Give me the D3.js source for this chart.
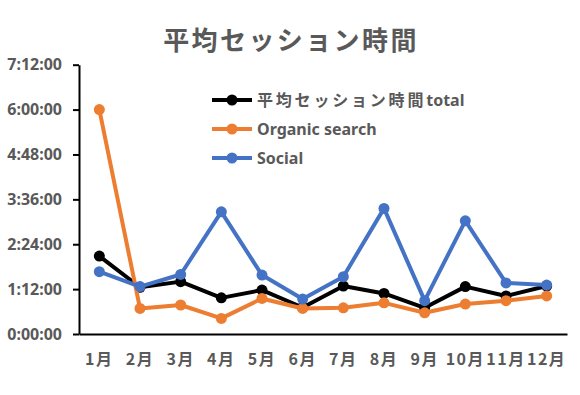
<!DOCTYPE html>
<html>
<head>
<meta charset="utf-8">
<script src="https://cdn.jsdelivr.net/npm/d3@7"></script>
<style>
body { margin: 0; background: #fff; }
</style>
</head>
<body>
<div></div>
<script>
const width = 580, height = 395
const svg = d3.select("div")
    .append("svg")
    .attr("xmlns", "http://www.w3.org/2000/svg")
    .attr("width", width)
    .attr("height", height)

// data
const months = ["1月","2月","3月","4月","5月","6月","7月","8月","9月","10月","11月","12月"]
const total   = ["2:05:00","1:15:00","1:24:00","0:58:00","1:10:30","0:42:30","1:17:00","1:05:00","0:42:00","1:16:00","1:01:00","1:17:00"]
const organic = ["6:00:00","0:41:00","0:46:30","0:25:00","0:57:00","0:41:00","0:42:00","0:50:00","0:34:00","0:48:00","0:53:30","1:01:00"]
const social  = ["1:40:00","1:16:00","1:35:30","3:16:00","1:34:30","0:56:00","1:32:00","3:21:30","0:53:30","3:01:30","1:22:00","1:18:30"]
const yTicks = ["0:00:00","1:12:00","2:24:00","3:36:00","4:48:00","6:00:00","7:12:00"]
const seriesNames = [["平均セッション時間", "total"], ["", "Organic search"], ["", "Social"]]
const colors = ["#000000", "#ED7D31", "#4472C4"]

const toSec = s => { const p = s.split(":").map(Number); return p[0]*3600 + p[1]*60 + p[2] }
const series = [total, organic, social].map((arr, i) => ({name: seriesNames[i], color: colors[i], values: arr.map(toSec)}))

const font = "'Noto Sans CJK JP', 'Noto Sans', sans-serif"
const latin = "'Noto Sans', sans-serif"
const grey = "#595959"

// scales
const x = d3.scaleBand().domain(months).range([79, 567])
const y = d3.scaleLinear().domain([0, toSec("7:12:00")]).range([334, 64.7])

// title
svg.append("text")
    .attr("x", 291).attr("y", 50)
    .attr("text-anchor", "middle")
    .attr("font-family", font)
    .attr("font-size", 26)
    .attr("font-weight", "bold")
    .attr("letter-spacing", 2.4)
    .attr("fill", grey)
    .text("平均セッション時間")

// y axis
const yAxis = svg.append("g")
    .attr("transform", "translate(79,0)")
    .call(d3.axisLeft(y).tickValues(yTicks.map(toSec)).tickFormat((d, i) => yTicks[i]).tickSize(6).tickSizeOuter(0).tickPadding(11))
yAxis.select(".domain").attr("stroke", "#000").attr("stroke-width", 2)
yAxis.selectAll(".tick line").attr("stroke", "#000").attr("stroke-width", 2)
yAxis.selectAll("text")
    .attr("font-family", latin).attr("font-size", 16).attr("font-weight", "bold").attr("fill", grey)

// x axis
const xAxis = svg.append("g")
    .attr("transform", "translate(0,334)")
    .call(d3.axisBottom(x).tickSize(0).tickPadding(20))
xAxis.select(".domain").attr("stroke", "#000").attr("stroke-width", 2)
xAxis.selectAll("text")
    .attr("font-family", font).attr("font-size", 16).attr("font-weight", "bold")
    .attr("letter-spacing", 1.5).attr("fill", grey)

const cx = (d, i) => x(months[i]) + x.bandwidth()/2
const line = d3.line().x(cx).y(d => y(d))

// series
series.forEach(s => {
    const g = svg.append("g")
    g.append("path")
        .attr("d", line(s.values))
        .attr("fill", "none")
        .attr("stroke", s.color)
        .attr("stroke-width", 4)
        .attr("stroke-linejoin", "round")
    g.selectAll("circle").data(s.values).enter().append("circle")
        .attr("cx", cx)
        .attr("cy", d => y(d))
        .attr("r", 5.5)
        .attr("fill", s.color)
})

// legend
const legend = svg.append("g")
series.forEach((s, i) => {
    const ly = 100 + i*29
    legend.append("line")
        .attr("x1", 212).attr("x2", 252).attr("y1", ly).attr("y2", ly)
        .attr("stroke", s.color).attr("stroke-width", 4)
    legend.append("circle").attr("cx", 232).attr("cy", ly).attr("r", 5.5).attr("fill", s.color)
    const t = legend.append("text")
        .attr("x", 257).attr("y", ly)
        .attr("dy", "0.35em")
        .attr("font-family", font).attr("font-size", 16).attr("font-weight", "bold").attr("fill", grey)
    if (s.name[0]) t.append("tspan").attr("letter-spacing", 2.8).text(s.name[0])
    t.append("tspan").attr("font-family", latin).text(s.name[1])
})
</script>
</body>
</html>
